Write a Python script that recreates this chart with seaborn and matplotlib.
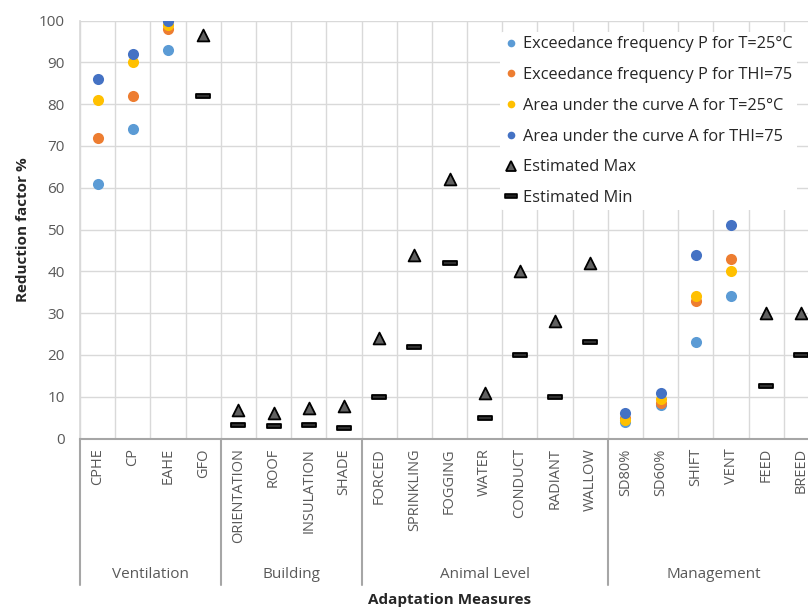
import numpy as np
import pandas as pd
import matplotlib
matplotlib.use("Agg")
import matplotlib.pyplot as plt
from matplotlib.lines import Line2D
from matplotlib.path import Path
import seaborn as sns

nan = np.nan

# Adaptation measures, grouped by category
measures = ["CPHE", "CP", "EAHE", "GFO",
            "ORIENTATION", "ROOF", "INSULATION", "SHADE",
            "FORCED", "SPRINKLING", "FOGGING", "WATER", "CONDUCT", "RADIANT", "WALLOW",
            "SD80%", "SD60%", "SHIFT", "VENT", "FEED", "BREED"]
groups = ["Ventilation", "Building", "Animal Level", "Management"]
group_sizes = [4, 4, 7, 6]

# Reduction factors (%)
freq_t25 = [61, 74, 93, nan,
            nan, nan, nan, nan,
            nan, nan, nan, nan, nan, nan, nan,
            4, 8, 23, 34, nan, nan]
freq_thi75 = [72, 82, 98, nan,
              nan, nan, nan, nan,
              nan, nan, nan, nan, nan, nan, nan,
              5, 8.5, 33, 43, nan, nan]
area_t25 = [81, 90, 99, nan,
            nan, nan, nan, nan,
            nan, nan, nan, nan, nan, nan, nan,
            4.5, 9.5, 34, 40, nan, nan]
area_thi75 = [86, 92, 100, nan,
              nan, nan, nan, nan,
              nan, nan, nan, nan, nan, nan, nan,
              6, 11, 44, 51, nan, nan]
est_max = [nan, nan, nan, 96.5,
           6.8, 6.2, 7.3, 7.8,
           24, 44, 62, 11, 40, 28, 42,
           nan, nan, nan, nan, 30, 30]
est_min = [nan, nan, nan, 82,
           3.3, 3.0, 3.3, 2.5,
           10, 22, 42, 5, 20, 10, 23,
           nan, nan, nan, nan, 12.5, 20]

labels = ["Exceedance frequency P for T=25°C",
          "Exceedance frequency P for THI=75",
          "Area under the curve A for T=25°C",
          "Area under the curve A for THI=75",
          "Estimated Max",
          "Estimated Min"]
colors = ["#5B9BD5", "#ED7D31", "#FFC000", "#4472C4"]

sns.set_theme(style="white")
plt.rcParams["font.family"] = ["Open Sans", "DejaVu Sans"]

df = pd.DataFrame({"measure": measures,
                   "p_t": freq_t25, "p_thi": freq_thi75,
                   "a_t": area_t25, "a_thi": area_thi75,
                   "max": est_max, "min": est_min})

fig = plt.figure(figsize=(8.08, 6.07), dpi=100)
W, H = 808, 607
ax = fig.add_axes([80 / W, 1 - 438.5 / H, 739 / W, 418 / H])

dash = Path([(-1, -0.33), (1, -0.33), (1, 0.33), (-1, 0.33), (-1, -0.33)],
            [Path.MOVETO, Path.LINETO, Path.LINETO, Path.LINETO, Path.CLOSEPOLY])

for col, c in zip(["p_t", "p_thi", "a_t", "a_thi"], colors):
    sns.stripplot(data=df, x="measure", y=col, order=measures, jitter=False,
                  color=c, size=8, linewidth=0, ax=ax, zorder=3)
sns.stripplot(data=df, x="measure", y="max", order=measures, jitter=False,
              color="#606060", marker="^", size=8.5, edgecolor="black",
              linewidth=1.3, ax=ax, zorder=4)
sns.stripplot(data=df, x="measure", y="min", order=measures, jitter=False,
              color="#303030", marker=dash, size=10, edgecolor="black",
              linewidth=1.3, ax=ax, zorder=4)

ax.set_xlim(-0.5, len(measures) - 0.5)
ax.set_ylim(0, 100)
ax.set_yticks(range(0, 101, 10))
ax.set_xticks(range(len(measures)))
ax.set_xticklabels(measures, rotation=90, fontsize=10.5, color="#595959")
ax.tick_params(axis="x", length=0, pad=7)
ax.tick_params(axis="y", length=0, pad=11, labelsize=11, labelcolor="#595959")
ax.set_xticks(np.arange(-0.5, len(measures), 1), minor=True)
ax.tick_params(axis="x", which="minor", length=0)
ax.grid(axis="y", which="major", color="#d9d9d9", linewidth=1)
ax.grid(axis="x", which="minor", color="#d9d9d9", linewidth=1)
ax.grid(axis="x", which="major", visible=False)
ax.set_axisbelow(True)
for s in ["top", "right"]:
    ax.spines[s].set_visible(False)
ax.spines["left"].set_color("#d9d9d9")
ax.spines["bottom"].set_color("#a6a6a6")
ax.spines["bottom"].set_linewidth(1.5)

ax.set_xlabel("")
ax.set_ylabel("Reduction factor %", fontsize=11, fontweight="bold", labelpad=6)

# Group separators and labels below the category axis
trans = ax.get_xaxis_transform()
y_sep = (438.5 - 585) / 418
y_grp = (438.5 - 574) / 418
edges = np.concatenate([[0], np.cumsum(group_sizes)]) - 0.5
for e in edges:
    ax.add_line(Line2D([e, e], [0, y_sep], transform=trans, color="#a6a6a6",
                       linewidth=1.5, clip_on=False))
for g, a, b in zip(groups, edges[:-1], edges[1:]):
    ax.text((a + b) / 2, y_grp, g, transform=trans, ha="center", va="center",
            fontsize=11, color="#595959")

fig.text(450 / W, 1 - 600 / H, "Adaptation Measures", ha="center", va="center",
         fontsize=11, fontweight="bold")

handles = [Line2D([], [], linestyle="none", marker="o", markersize=5.5,
                  markerfacecolor=c, markeredgewidth=0) for c in colors]
handles.append(Line2D([], [], linestyle="none", marker="^", markersize=6.5,
                      markerfacecolor="#606060", markeredgecolor="black",
                      markeredgewidth=1.3))
handles.append(Line2D([], [], linestyle="none", marker=dash, markersize=8.5,
                      markerfacecolor="#202020", markeredgecolor="black",
                      markeredgewidth=1.2))
leg = ax.legend(handles, labels, loc="upper left",
                bbox_to_anchor=(492 / W, 1 - 24 / H), bbox_transform=fig.transFigure,
                frameon=True, fontsize=11.8, handlelength=0.8, handletextpad=0.35,
                labelspacing=0.9, borderpad=0.25)
leg.get_frame().set_facecolor("white")
leg.get_frame().set_edgecolor("none")
leg.get_frame().set_alpha(1)

fig.savefig("out.png", dpi=100)
